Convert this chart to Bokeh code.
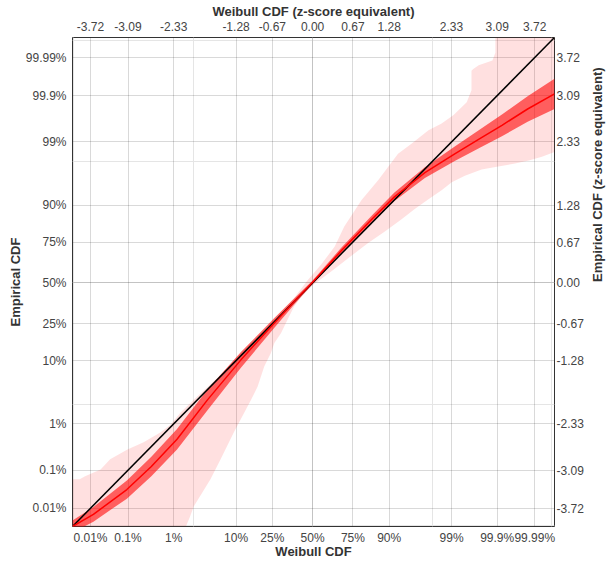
import math
from statistics import NormalDist
from bokeh.plotting import figure
from bokeh.models import Range1d, LinearAxis, FixedTicker, Grid
from bokeh.embed import file_html
from bokeh.resources import INLINE

# ---- data (z-score space) ----
tick_probs = [0.0001, 0.001, 0.01, 0.1, 0.25, 0.5, 0.75, 0.9, 0.99, 0.999, 0.9999]
pct_labels = ["0.01%", "0.1%", "1%", "10%", "25%", "50%", "75%", "90%", "99%", "99.9%", "99.99%"]

z_min, z_max = -4.02, 4.05

fit_x = [-4.02, -3.67, -3.11, -2.70, -2.27, -1.76, -1.20, -0.64, -0.30, 0.00, 0.48, 1.00, 1.37, 1.88, 2.38, 2.80, 3.17, 3.60, 4.05]
fit_y = [-4.02, -3.82, -3.41, -3.03, -2.58, -1.93, -1.27, -0.66, -0.30, 0.01, 0.53, 1.06, 1.42, 1.82, 2.13, 2.38, 2.60, 2.87, 3.12]
ci_half = [0.10, 0.12, 0.15, 0.16, 0.17, 0.17, 0.13, 0.08, 0.05, 0.03, 0.05, 0.06, 0.07, 0.09, 0.12, 0.15, 0.18, 0.21, 0.25]

band_upper_x = [-4.02, -3.90, -3.81, -3.55, -3.39, -3.10, -2.83, -2.55, -2.38, -2.21, -1.99, -1.59, -1.20, -0.75, -0.53, -0.31, -0.08, 0.14, 0.37, 0.53, 0.82, 1.10, 1.26, 1.43, 1.66, 1.94, 2.16, 2.36, 2.58, 2.66, 2.66, 2.69, 2.78, 3.01, 3.06, 3.06, 4.05]
band_upper_y = [-3.24, -3.24, -3.19, -3.08, -2.91, -2.75, -2.63, -2.47, -2.34, -2.14, -1.93, -1.56, -1.16, -0.72, -0.48, -0.25, 0.05, 0.30, 0.60, 0.93, 1.37, 1.70, 1.91, 2.13, 2.30, 2.52, 2.63, 2.77, 2.98, 3.18, 3.50, 3.53, 3.59, 3.67, 3.80, 4.05, 4.05]
band_lower_x = [-2.12, -2.05, -1.99, -1.71, -1.54, -1.32, -1.03, -0.92, -0.81, -0.70, -0.64, -0.53, -0.42, -0.31, -0.19, 0.00, 0.30, 0.65, 0.93, 1.21, 1.49, 1.71, 1.94, 2.16, 2.33, 2.55, 2.83, 3.11, 3.39, 3.62, 3.84, 4.05]
band_lower_y = [-4.02, -3.85, -3.69, -3.24, -2.91, -2.47, -1.93, -1.71, -1.38, -1.16, -0.99, -0.83, -0.61, -0.39, -0.23, -0.04, 0.18, 0.45, 0.66, 0.85, 1.05, 1.22, 1.38, 1.53, 1.66, 1.77, 1.87, 1.92, 1.97, 2.02, 2.08, 2.16]

nd = NormalDist()
tick_z = [nd.inv_cdf(q) + 0.0 for q in tick_probs]
z_labels = ["%.2f" % (round(z, 2) + 0.0) for z in tick_z]

# ---- figure ----
p = figure(frame_width=482, frame_height=489,
           x_range=Range1d(z_min, z_max), y_range=Range1d(z_min, z_max),
           output_backend="svg", toolbar_location=None,
           x_axis_location=None, y_axis_location=None,
           min_border_left=72, min_border_right=50, min_border_top=37, min_border_bottom=28)
p.outline_line_color = "#333333"
p.outline_line_width = 1
p.background_fill_color = "white"
p.border_fill_color = "white"

ticker = FixedTicker(ticks=tick_z)
pct_over = {z: l for z, l in zip(tick_z, pct_labels)}
z_over = {z: l for z, l in zip(tick_z, z_labels)}


def make_axis(title, overrides, standoff, title_standoff):
    ax = LinearAxis(ticker=FixedTicker(ticks=tick_z), major_label_overrides=overrides, axis_label=title)
    ax.major_tick_line_color = None
    ax.minor_tick_line_color = None
    ax.major_tick_out = 0
    ax.major_tick_in = 0
    ax.axis_line_color = None
    ax.major_label_text_font = "Liberation Sans"
    ax.major_label_text_font_size = "12px"
    ax.major_label_text_color = "#444444"
    ax.major_label_standoff = standoff
    ax.axis_label_text_font = "Liberation Sans"
    ax.axis_label_text_font_size = "13px"
    ax.axis_label_text_font_style = "bold"
    ax.axis_label_text_color = "#333333"
    ax.axis_label_standoff = title_standoff
    return ax


p.add_layout(make_axis("Weibull CDF", pct_over, 4, -4), "below")
p.add_layout(make_axis("Weibull CDF (z-score equivalent)", z_over, 7, 0), "above")
p.add_layout(make_axis("Empirical CDF", pct_over, 6, 0), "left")
right_ax = make_axis("Empirical CDF (z-score equivalent)", z_over, 2, 11)
right_ax.axis_label_orientation = math.pi / 2
p.add_layout(right_ax, "right")

p.add_layout(Grid(dimension=0, ticker=ticker, grid_line_color="#000000", grid_line_alpha=0.15))
p.add_layout(Grid(dimension=1, ticker=ticker, grid_line_color="#000000", grid_line_alpha=0.15))

# wide band
poly_x = [z_min] + band_upper_x + band_lower_x[::-1] + [z_min]
poly_y = [z_min] + band_upper_y + band_lower_y[::-1] + [z_min]
p.patch(poly_x, poly_y, fill_color="red", fill_alpha=0.12, line_color=None)

# narrow band
ci_lo = [y - h for y, h in zip(fit_y, ci_half)]
ci_hi = [y + h for y, h in zip(fit_y, ci_half)]
p.varea(x=fit_x, y1=ci_lo, y2=ci_hi, fill_color="red", fill_alpha=0.58)

# reference diagonal
diag = [z_min, z_max]
p.line(diag, diag, line_color="black", line_width=1.5)

# fitted curve
p.line(fit_x, fit_y, line_color="red", line_width=1.5)

open("out.html", "w").write(file_html(p, INLINE))
